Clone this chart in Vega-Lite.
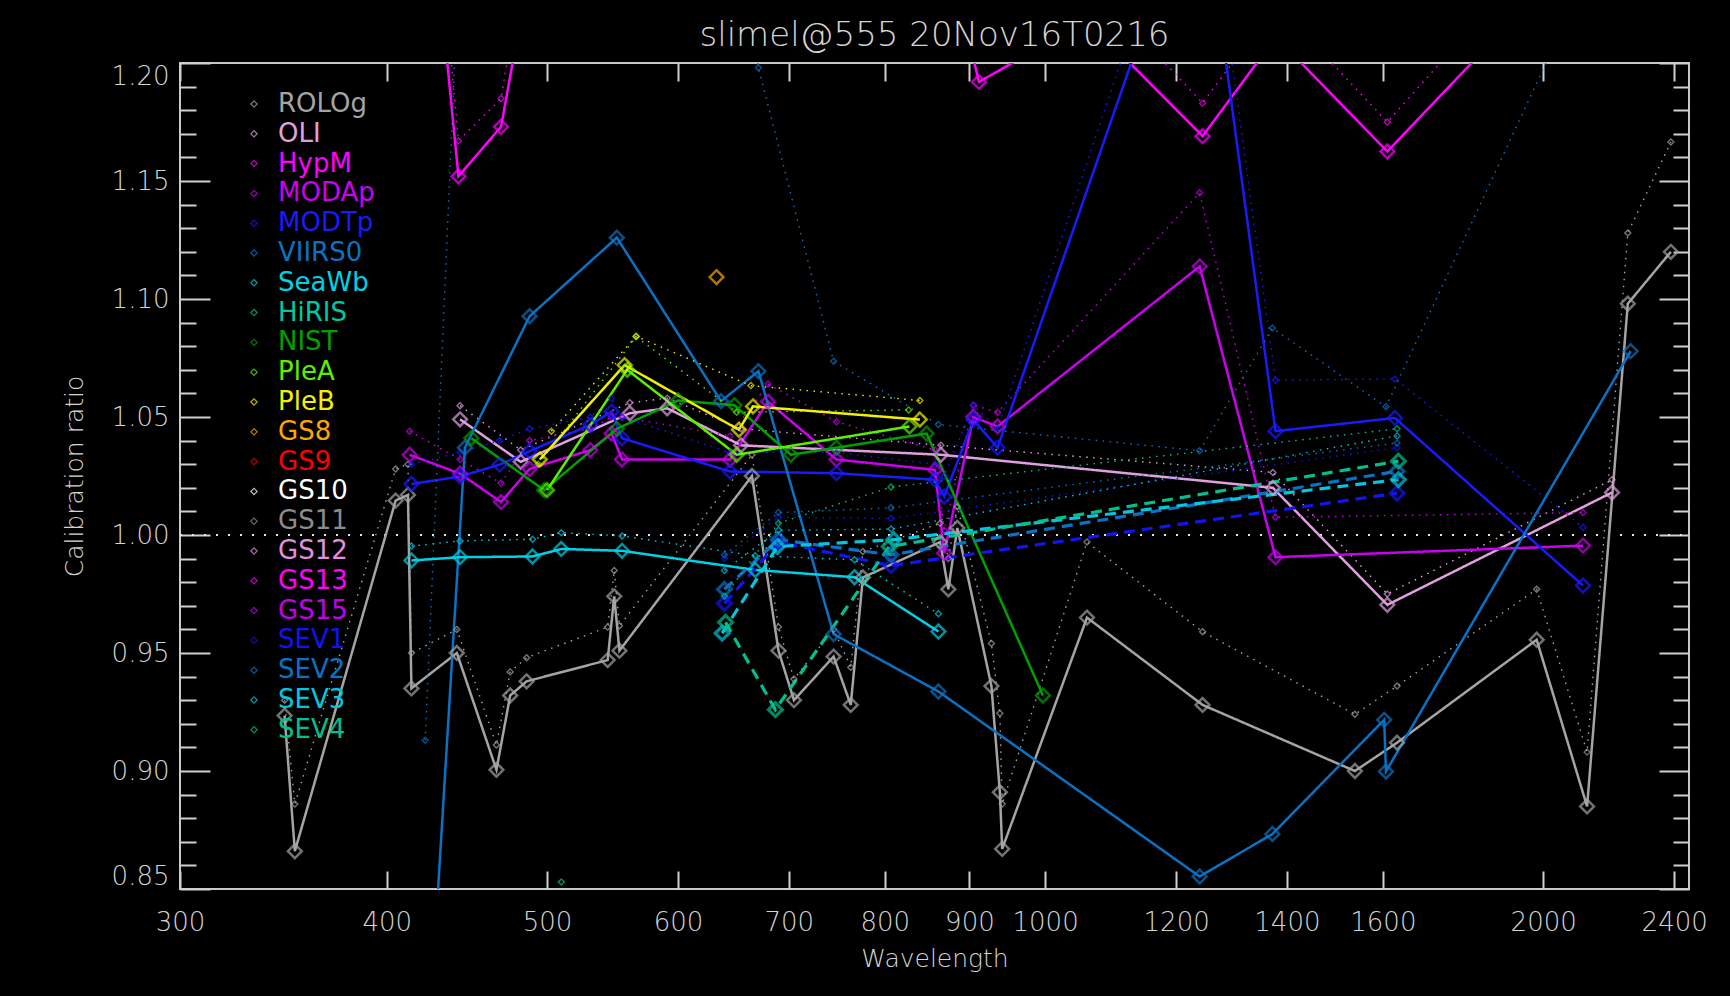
{
"$schema":"https://vega.github.io/schema/vega-lite/v6.json",
"width":1509,"height":826,
"autosize":{"type":"none"},
"padding":{"left":180,"top":63,"right":41,"bottom":107},
"background":"#000000",
"title":{"text":"slimel@555  20Nov16T0216","fontSize":34,"font":"DejaVu Sans","fontWeight":200,"color":"#d4d4d4","offset":9,"anchor":"middle"},
"config":{"view":{"stroke":"#c8c8c8","strokeWidth":2},
"legend":{"orient":"none","legendX":61,"legendY":28,"title":null,"symbolType":"diamond","symbolSize":40,"symbolStrokeWidth":1.2,"symbolFillColor":"transparent","symbolOpacity":0.75,"labelFontSize":26,"labelFont":"DejaVu Sans","labelOffset":11,"rowPadding":3.8,"padding":0,"labelLimit":300}},
"data":{"values":[
{"s":"ROLOg","g":"solid","w":347,"v":0.9235},{"s":"ROLOg","g":"solid","w":352,"v":0.866},{"s":"ROLOg","g":"solid","w":405,"v":1.0146},{"s":"ROLOg","g":"solid","w":412,"v":1.017},{"s":"ROLOg","g":"solid","w":414,"v":0.935},{"s":"ROLOg","g":"solid","w":441,"v":0.95},{"s":"ROLOg","g":"solid","w":466,"v":0.9005},{"s":"ROLOg","g":"solid","w":475,"v":0.932},{"s":"ROLOg","g":"solid","w":486,"v":0.938},{"s":"ROLOg","g":"solid","w":544,"v":0.947},{"s":"ROLOg","g":"solid","w":549,"v":0.974},{"s":"ROLOg","g":"solid","w":553,"v":0.951},{"s":"ROLOg","g":"solid","w":665,"v":1.025},{"s":"ROLOg","g":"solid","w":690,"v":0.951},{"s":"ROLOg","g":"solid","w":705,"v":0.93},{"s":"ROLOg","g":"solid","w":745,"v":0.9485},{"s":"ROLOg","g":"solid","w":763,"v":0.928},{"s":"ROLOg","g":"solid","w":776,"v":0.982},{"s":"ROLOg","g":"solid","w":864,"v":0.997},{"s":"ROLOg","g":"solid","w":874,"v":0.977},{"s":"ROLOg","g":"solid","w":885,"v":1.003},{"s":"ROLOg","g":"solid","w":928,"v":0.936},{"s":"ROLOg","g":"solid","w":939,"v":0.891},{"s":"ROLOg","g":"solid","w":942,"v":0.867},{"s":"ROLOg","g":"solid","w":1060,"v":0.965},{"s":"ROLOg","g":"solid","w":1245,"v":0.928},{"s":"ROLOg","g":"solid","w":1539,"v":0.9},{"s":"ROLOg","g":"solid","w":1632,"v":0.912},{"s":"ROLOg","g":"solid","w":1982,"v":0.9556},{"s":"ROLOg","g":"solid","w":2126,"v":0.885},{"s":"ROLOg","g":"solid","w":2250,"v":1.098},{"s":"ROLOg","g":"solid","w":2389,"v":1.12},
{"s":"ROLOg","g":"dotted","w":347,"v":0.93},{"s":"ROLOg","g":"dotted","w":352,"v":0.886},{"s":"ROLOg","g":"dotted","w":405,"v":1.028},{"s":"ROLOg","g":"dotted","w":412,"v":1.03},{"s":"ROLOg","g":"dotted","w":414,"v":0.95},{"s":"ROLOg","g":"dotted","w":441,"v":0.96},{"s":"ROLOg","g":"dotted","w":466,"v":0.911},{"s":"ROLOg","g":"dotted","w":475,"v":0.942},{"s":"ROLOg","g":"dotted","w":486,"v":0.948},{"s":"ROLOg","g":"dotted","w":544,"v":0.961},{"s":"ROLOg","g":"dotted","w":549,"v":0.985},{"s":"ROLOg","g":"dotted","w":553,"v":0.9615},{"s":"ROLOg","g":"dotted","w":665,"v":1.034},{"s":"ROLOg","g":"dotted","w":690,"v":0.961},{"s":"ROLOg","g":"dotted","w":705,"v":0.939},{"s":"ROLOg","g":"dotted","w":745,"v":0.96},{"s":"ROLOg","g":"dotted","w":763,"v":0.944},{"s":"ROLOg","g":"dotted","w":776,"v":0.993},{"s":"ROLOg","g":"dotted","w":864,"v":1.005},{"s":"ROLOg","g":"dotted","w":874,"v":0.99},{"s":"ROLOg","g":"dotted","w":885,"v":1.012},{"s":"ROLOg","g":"dotted","w":928,"v":0.954},{"s":"ROLOg","g":"dotted","w":939,"v":0.9245},{"s":"ROLOg","g":"dotted","w":942,"v":0.886},{"s":"ROLOg","g":"dotted","w":1060,"v":0.997},{"s":"ROLOg","g":"dotted","w":1245,"v":0.959},{"s":"ROLOg","g":"dotted","w":1539,"v":0.924},{"s":"ROLOg","g":"dotted","w":1632,"v":0.936},{"s":"ROLOg","g":"dotted","w":1982,"v":0.977},{"s":"ROLOg","g":"dotted","w":2126,"v":0.908},{"s":"ROLOg","g":"dotted","w":2250,"v":1.128},{"s":"ROLOg","g":"dotted","w":2389,"v":1.1665},
{"s":"OLI","g":"solid","w":443,"v":1.049},{"s":"OLI","g":"solid","w":482,"v":1.031},{"s":"OLI","g":"solid","w":561,"v":1.0516},{"s":"OLI","g":"solid","w":591,"v":1.0537},{"s":"OLI","g":"solid","w":655,"v":1.038},{"s":"OLI","g":"solid","w":865,"v":1.034},{"s":"OLI","g":"solid","w":1373,"v":1.02},{"s":"OLI","g":"solid","w":1610,"v":0.9704},{"s":"OLI","g":"solid","w":2201,"v":1.018},
{"s":"OLI","g":"dotted","w":443,"v":1.0548},{"s":"OLI","g":"dotted","w":482,"v":1.036},{"s":"OLI","g":"dotted","w":561,"v":1.056},{"s":"OLI","g":"dotted","w":591,"v":1.058},{"s":"OLI","g":"dotted","w":655,"v":1.045},{"s":"OLI","g":"dotted","w":865,"v":1.038},{"s":"OLI","g":"dotted","w":1373,"v":1.0265},{"s":"OLI","g":"dotted","w":1610,"v":0.975},{"s":"OLI","g":"dotted","w":2201,"v":1.0234},
{"s":"HypM","g":"solid","w":412,"v":1.37},{"s":"HypM","g":"solid","w":442,"v":1.152},{"s":"HypM","g":"solid","w":469,"v":1.173},{"s":"HypM","g":"solid","w":488,"v":1.24},{"s":"HypM","g":"solid","w":531,"v":1.3},{"s":"HypM","g":"solid","w":551,"v":1.32},{"s":"HypM","g":"solid","w":645,"v":1.33},{"s":"HypM","g":"solid","w":667,"v":1.34},{"s":"HypM","g":"solid","w":748,"v":1.3},{"s":"HypM","g":"solid","w":865,"v":1.26},{"s":"HypM","g":"solid","w":912,"v":1.192},{"s":"HypM","g":"solid","w":1061,"v":1.218},{"s":"HypM","g":"solid","w":1245,"v":1.169},{"s":"HypM","g":"solid","w":1379,"v":1.211},{"s":"HypM","g":"solid","w":1610,"v":1.1625},{"s":"HypM","g":"solid","w":2130,"v":1.252},
{"s":"HypM","g":"dotted","w":412,"v":1.4},{"s":"HypM","g":"dotted","w":442,"v":1.167},{"s":"HypM","g":"dotted","w":469,"v":1.185},{"s":"HypM","g":"dotted","w":488,"v":1.26},{"s":"HypM","g":"dotted","w":531,"v":1.32},{"s":"HypM","g":"dotted","w":551,"v":1.34},{"s":"HypM","g":"dotted","w":645,"v":1.35},{"s":"HypM","g":"dotted","w":667,"v":1.36},{"s":"HypM","g":"dotted","w":748,"v":1.32},{"s":"HypM","g":"dotted","w":865,"v":1.28},{"s":"HypM","g":"dotted","w":912,"v":1.215},{"s":"HypM","g":"dotted","w":1061,"v":1.235},{"s":"HypM","g":"dotted","w":1245,"v":1.183},{"s":"HypM","g":"dotted","w":1379,"v":1.225},{"s":"HypM","g":"dotted","w":1610,"v":1.175},{"s":"HypM","g":"dotted","w":2130,"v":1.27},
{"s":"MODAp","g":"solid","w":413,"v":1.034},{"s":"MODAp","g":"solid","w":443,"v":1.026},{"s":"MODAp","g":"solid","w":469,"v":1.014},{"s":"MODAp","g":"solid","w":488,"v":1.028},{"s":"MODAp","g":"solid","w":531,"v":1.036},{"s":"MODAp","g":"solid","w":547,"v":1.043},{"s":"MODAp","g":"solid","w":555,"v":1.032},{"s":"MODAp","g":"solid","w":645,"v":1.032},{"s":"MODAp","g":"solid","w":680,"v":1.0565},{"s":"MODAp","g":"solid","w":748,"v":1.032},{"s":"MODAp","g":"solid","w":858,"v":1.0276},{"s":"MODAp","g":"solid","w":869,"v":0.9923},{"s":"MODAp","g":"solid","w":905,"v":1.05},{"s":"MODAp","g":"solid","w":936,"v":1.046},{"s":"MODAp","g":"solid","w":1240,"v":1.1138},{"s":"MODAp","g":"solid","w":1378,"v":0.9906},{"s":"MODAp","g":"solid","w":2114,"v":0.9955},
{"s":"MODAp","g":"dotted","w":413,"v":1.044},{"s":"MODAp","g":"dotted","w":443,"v":1.032},{"s":"MODAp","g":"dotted","w":469,"v":1.022},{"s":"MODAp","g":"dotted","w":488,"v":1.04},{"s":"MODAp","g":"dotted","w":531,"v":1.045},{"s":"MODAp","g":"dotted","w":547,"v":1.05},{"s":"MODAp","g":"dotted","w":555,"v":1.05},{"s":"MODAp","g":"dotted","w":645,"v":1.042},{"s":"MODAp","g":"dotted","w":680,"v":1.064},{"s":"MODAp","g":"dotted","w":748,"v":1.048},{"s":"MODAp","g":"dotted","w":858,"v":1.036},{"s":"MODAp","g":"dotted","w":869,"v":1.002},{"s":"MODAp","g":"dotted","w":905,"v":1.055},{"s":"MODAp","g":"dotted","w":936,"v":1.052},{"s":"MODAp","g":"dotted","w":1240,"v":1.145},{"s":"MODAp","g":"dotted","w":1378,"v":1.0075},{"s":"MODAp","g":"dotted","w":2114,"v":1.0095},
{"s":"MODTp","g":"solid","w":414,"v":1.0216},{"s":"MODTp","g":"solid","w":443,"v":1.0248},{"s":"MODTp","g":"solid","w":468,"v":1.0298},{"s":"MODTp","g":"solid","w":488,"v":1.0355},{"s":"MODTp","g":"solid","w":531,"v":1.0467},{"s":"MODTp","g":"solid","w":547,"v":1.0523},{"s":"MODTp","g":"solid","w":555,"v":1.041},{"s":"MODTp","g":"solid","w":645,"v":1.0269},{"s":"MODTp","g":"solid","w":748,"v":1.0262},{"s":"MODTp","g":"solid","w":858,"v":1.0234},{"s":"MODTp","g":"solid","w":869,"v":1.0163},{"s":"MODTp","g":"solid","w":905,"v":1.0488},{"s":"MODTp","g":"solid","w":936,"v":1.037},{"s":"MODTp","g":"solid","w":1240,"v":1.2835},{"s":"MODTp","g":"solid","w":1378,"v":1.044},{"s":"MODTp","g":"solid","w":1627,"v":1.0496},{"s":"MODTp","g":"solid","w":2114,"v":0.9786},
{"s":"MODTp","g":"dotted","w":414,"v":1.03},{"s":"MODTp","g":"dotted","w":443,"v":1.035},{"s":"MODTp","g":"dotted","w":468,"v":1.04},{"s":"MODTp","g":"dotted","w":488,"v":1.045},{"s":"MODTp","g":"dotted","w":531,"v":1.05},{"s":"MODTp","g":"dotted","w":547,"v":1.058},{"s":"MODTp","g":"dotted","w":555,"v":1.05},{"s":"MODTp","g":"dotted","w":645,"v":1.035},{"s":"MODTp","g":"dotted","w":748,"v":1.035},{"s":"MODTp","g":"dotted","w":858,"v":1.03},{"s":"MODTp","g":"dotted","w":869,"v":1.025},{"s":"MODTp","g":"dotted","w":905,"v":1.055},{"s":"MODTp","g":"dotted","w":936,"v":1.045},{"s":"MODTp","g":"dotted","w":1240,"v":1.3},{"s":"MODTp","g":"dotted","w":1378,"v":1.0656},{"s":"MODTp","g":"dotted","w":1627,"v":1.0661},{"s":"MODTp","g":"dotted","w":2114,"v":1.0033},
{"s":"VIIRS0","g":"solid","w":412,"v":0.64},{"s":"VIIRS0","g":"solid","w":446,"v":1.037},{"s":"VIIRS0","g":"solid","w":488,"v":1.0927},{"s":"VIIRS0","g":"solid","w":551,"v":1.126},{"s":"VIIRS0","g":"solid","w":637,"v":1.0567},{"s":"VIIRS0","g":"solid","w":671,"v":1.0694},{"s":"VIIRS0","g":"solid","w":745,"v":0.958},{"s":"VIIRS0","g":"solid","w":862,"v":0.9337},{"s":"VIIRS0","g":"solid","w":1240,"v":0.8553},{"s":"VIIRS0","g":"solid","w":1372,"v":0.8733},{"s":"VIIRS0","g":"solid","w":1603,"v":0.9217},{"s":"VIIRS0","g":"solid","w":1607,"v":0.8998},{"s":"VIIRS0","g":"solid","w":2259,"v":1.0779},
{"s":"VIIRS0","g":"dotted","w":422,"v":0.913},{"s":"VIIRS0","g":"dotted","w":446,"v":1.3},{"s":"VIIRS0","g":"dotted","w":488,"v":1.35},{"s":"VIIRS0","g":"dotted","w":551,"v":1.36},{"s":"VIIRS0","g":"dotted","w":637,"v":1.3},{"s":"VIIRS0","g":"dotted","w":671,"v":1.198},{"s":"VIIRS0","g":"dotted","w":745,"v":1.0736},{"s":"VIIRS0","g":"dotted","w":862,"v":1.0468},{"s":"VIIRS0","g":"dotted","w":1240,"v":1.0357},{"s":"VIIRS0","g":"dotted","w":1372,"v":1.0877},{"s":"VIIRS0","g":"dotted","w":1607,"v":1.0543},{"s":"VIIRS0","g":"dotted","w":2259,"v":1.277},
{"s":"SeaWb","g":"solid","w":414,"v":0.9892},{"s":"SeaWb","g":"solid","w":443,"v":0.9906},{"s":"SeaWb","g":"solid","w":490,"v":0.9909},{"s":"SeaWb","g":"solid","w":510,"v":0.9941},{"s":"SeaWb","g":"solid","w":555,"v":0.9933},{"s":"SeaWb","g":"solid","w":668,"v":0.9852},{"s":"SeaWb","g":"solid","w":767,"v":0.9821},{"s":"SeaWb","g":"solid","w":862,"v":0.9591},
{"s":"SeaWb","g":"dotted","w":414,"v":0.9953},{"s":"SeaWb","g":"dotted","w":443,"v":0.9975},{"s":"SeaWb","g":"dotted","w":490,"v":0.9982},{"s":"SeaWb","g":"dotted","w":510,"v":1.001},{"s":"SeaWb","g":"dotted","w":555,"v":0.9996},{"s":"SeaWb","g":"dotted","w":668,"v":0.9912},{"s":"SeaWb","g":"dotted","w":767,"v":0.9895},{"s":"SeaWb","g":"dotted","w":862,"v":0.9666},
{"s":"HiRIS","g":"dotted","w":510,"v":0.853},
{"s":"NIST","g":"solid","w":450,"v":1.041},{"s":"NIST","g":"solid","w":498,"v":1.019},{"s":"NIST","g":"solid","w":551,"v":1.045},{"s":"NIST","g":"solid","w":600,"v":1.057},{"s":"NIST","g":"solid","w":649,"v":1.055},{"s":"NIST","g":"solid","w":702,"v":1.034},{"s":"NIST","g":"solid","w":748,"v":1.037},{"s":"NIST","g":"solid","w":848,"v":1.043},{"s":"NIST","g":"solid","w":997,"v":0.932},
{"s":"PleA","g":"solid","w":500,"v":1.019},{"s":"PleA","g":"solid","w":559,"v":1.07},{"s":"PleA","g":"solid","w":651,"v":1.034},{"s":"PleA","g":"solid","w":828,"v":1.046},
{"s":"PleA","g":"dotted","w":494,"v":1.03},{"s":"PleA","g":"dotted","w":566,"v":1.084},{"s":"PleA","g":"dotted","w":651,"v":1.052},{"s":"PleA","g":"dotted","w":827,"v":1.053},
{"s":"PleB","g":"solid","w":495,"v":1.032},{"s":"PleB","g":"solid","w":557,"v":1.072},{"s":"PleB","g":"solid","w":653,"v":1.0446},{"s":"PleB","g":"solid","w":666,"v":1.0545},{"s":"PleB","g":"solid","w":840,"v":1.0489},
{"s":"PleB","g":"dotted","w":503,"v":1.044},{"s":"PleB","g":"dotted","w":566,"v":1.0842},{"s":"PleB","g":"dotted","w":664,"v":1.0633},{"s":"PleB","g":"dotted","w":840,"v":1.057},
{"s":"GS8","g":"solid","w":633,"v":1.1093},
{"s":"SEV1","g":"dashed","w":640,"v":0.971},{"s":"SEV1","g":"dashed","w":690,"v":0.997},{"s":"SEV1","g":"dashed","w":807,"v":0.987},{"s":"SEV1","g":"dashed","w":1632,"v":1.0177},
{"s":"SEV2","g":"dashed","w":640,"v":0.977},{"s":"SEV2","g":"dashed","w":690,"v":0.998},{"s":"SEV2","g":"dashed","w":807,"v":0.9916},{"s":"SEV2","g":"dashed","w":1632,"v":1.027},
{"s":"SEV3","g":"dashed","w":638,"v":0.9584},{"s":"SEV3","g":"dashed","w":689,"v":0.9951},{"s":"SEV3","g":"dashed","w":810,"v":0.998},{"s":"SEV3","g":"dashed","w":1635,"v":1.0235},
{"s":"SEV4","g":"dashed","w":641,"v":0.963},{"s":"SEV4","g":"dashed","w":687,"v":0.926},{"s":"SEV4","g":"dashed","w":805,"v":0.9951},{"s":"SEV4","g":"dashed","w":1635,"v":1.0313},
{"s":"SEV1","g":"dotted","w":640,"v":0.99},{"s":"SEV1","g":"dotted","w":690,"v":1.0075},{"s":"SEV1","g":"dotted","w":807,"v":1.007},{"s":"SEV1","g":"dotted","w":1632,"v":1.037},
{"s":"SEV2","g":"dotted","w":640,"v":0.9916},{"s":"SEV2","g":"dotted","w":690,"v":1.0095},{"s":"SEV2","g":"dotted","w":807,"v":1.0115},{"s":"SEV2","g":"dotted","w":1632,"v":1.039},
{"s":"SEV3","g":"dotted","w":640,"v":0.985},{"s":"SEV3","g":"dotted","w":690,"v":1.002},{"s":"SEV3","g":"dotted","w":807,"v":1.0025},{"s":"SEV3","g":"dotted","w":1632,"v":1.042},
{"s":"SEV4","g":"dotted","w":640,"v":0.974},{"s":"SEV4","g":"dotted","w":690,"v":1.005},{"s":"SEV4","g":"dotted","w":807,"v":1.0203},{"s":"SEV4","g":"dotted","w":1632,"v":1.045}
]},
"resolve":{"axis":{"x":"independent","y":"independent"}},
"layer":[
{"mark":{"type":"rule","strokeDash":[2,10],"color":"#e6e6e6","strokeWidth":2},
"encoding":{
"x":{"datum":300,"type":"quantitative","scale":{"type":"log","domain":[300,2450],"nice":false},"axis":{"orient":"bottom","values":[300,400,500,600,700,800,900,1000,1200,1400,1600,2000,2400],"labels":false,"domain":false,"grid":false,"title":null,"tickColor":"#d0d0d0","tickWidth":2,"tickSize":-18}},
"x2":{"datum":2450},
"y":{"datum":1,"type":"quantitative","scale":{"domain":[0.85,1.2],"nice":false,"zero":false},"axis":{"orient":"left","values":[0.85,0.86,0.87,0.88,0.89,0.9,0.91,0.92,0.93,0.94,0.95,0.96,0.97,0.98,0.99,1,1.01,1.02,1.03,1.04,1.05,1.06,1.07,1.08,1.09,1.1,1.11,1.12,1.13,1.14,1.15,1.16,1.17,1.18,1.19,1.2],"labels":false,"domain":false,"grid":false,"title":null,"tickColor":"#d0d0d0","tickWidth":2,"tickSize":{"condition":{"test":"abs(datum.value*20-round(datum.value*20))<0.01","value":-30},"value":-16}}}
}},
{"mark":{"type":"line","clip":true,"strokeCap":"butt"},
"encoding":{
"x":{"field":"w","type":"quantitative","scale":{"type":"log","domain":[300,2450],"nice":false},"axis":{"orient":"bottom","values":[300,400,500,600,700,800,900,1000,1200,1400,1600,2000,2400],"format":"d","ticks":false,"domain":false,"grid":false,"labelFlush":false,"labelOverlap":false,"labelPadding":20,"labelFontSize":26,"labelFont":"DejaVu Sans","labelFontWeight":200,"labelColor":"#d4d4d4","title":"Wavelength","titleFontSize":25,"titleFont":"DejaVu Sans","titleFontWeight":200,"titleColor":"#d4d4d4","titlePadding":11}},
"y":{"field":"v","type":"quantitative","scale":{"domain":[0.85,1.2],"nice":false,"zero":false},"axis":{"orient":"left","values":[0.85,0.9,0.95,1,1.05,1.1,1.15,1.2],"format":".2f","ticks":false,"domain":false,"grid":false,"labelFlush":true,"labelOverlap":false,"labelPadding":11,"labelFontSize":26,"labelFont":"DejaVu Sans","labelFontWeight":200,"labelColor":"#d4d4d4","title":"Calibration ratio","titleFontSize":25,"titleFont":"DejaVu Sans","titleFontWeight":200,"titleColor":"#d4d4d4","titlePadding":24}},
"color":{"field":"s","type":"nominal","scale":{"domain":["ROLOg","OLI","HypM","MODAp","MODTp","VIIRS0","SeaWb","HiRIS","NIST","PleA","PleB","GS8","GS9","GS10","GS11","GS12","GS13","GS15","SEV1","SEV2","SEV3","SEV4"],"range":["#a4a4a4","#e0a0e0","#ff00ff","#cc00f0","#1a1aff","#0a72c4","#00d2e6","#00c8a0","#00a000","#5cf000","#f0f000","#ffa500","#ff0000","#ffffff","#8c8c8c","#e090e0","#ff00ff","#c000f0","#1414f0","#0a72c4","#00c8e0","#00c090"]},"legend":{"encode":{"labels":{"update":{"fill":{"scale":"color","field":"value"}}}}}},
"strokeDash":{"field":"g","type":"nominal","scale":{"domain":["solid","dotted","dashed"],"range":[[1,0],[1.5,5.5],[11,7]]},"legend":null},
"strokeWidth":{"field":"g","type":"nominal","scale":{"type":"ordinal","domain":["solid","dotted","dashed"],"range":[2.5,1.4,3.2]},"legend":null},
"detail":[{"field":"s"},{"field":"g"}]
}},
{"mark":{"type":"point","shape":"diamond","filled":false,"clip":true},
"encoding":{
"x":{"field":"w","type":"quantitative","axis":{"orient":"top","values":[300,400,500,600,700,800,900,1000,1200,1400,1600,2000,2400],"labels":false,"domain":false,"grid":false,"title":null,"tickColor":"#d0d0d0","tickWidth":2,"tickSize":-18}},
"y":{"field":"v","type":"quantitative","axis":{"orient":"right","values":[0.85,0.86,0.87,0.88,0.89,0.9,0.91,0.92,0.93,0.94,0.95,0.96,0.97,0.98,0.99,1,1.01,1.02,1.03,1.04,1.05,1.06,1.07,1.08,1.09,1.1,1.11,1.12,1.13,1.14,1.15,1.16,1.17,1.18,1.19,1.2],"labels":false,"domain":false,"grid":false,"title":null,"tickColor":"#d0d0d0","tickWidth":2,"tickSize":{"condition":{"test":"abs(datum.value*20-round(datum.value*20))<0.01","value":-30},"value":-16}}},
"color":{"field":"s","type":"nominal","legend":{"encode":{"labels":{"update":{"fill":{"scale":"color","field":"value"}}}}}},
"size":{"field":"g","type":"nominal","scale":{"type":"ordinal","domain":["solid","dotted","dashed"],"range":[190,36,190]},"legend":null},
"strokeWidth":{"field":"g","type":"nominal","scale":{"type":"ordinal","domain":["solid","dotted","dashed"],"range":[2.2,1,2.2]},"legend":null}
}}
]
}
